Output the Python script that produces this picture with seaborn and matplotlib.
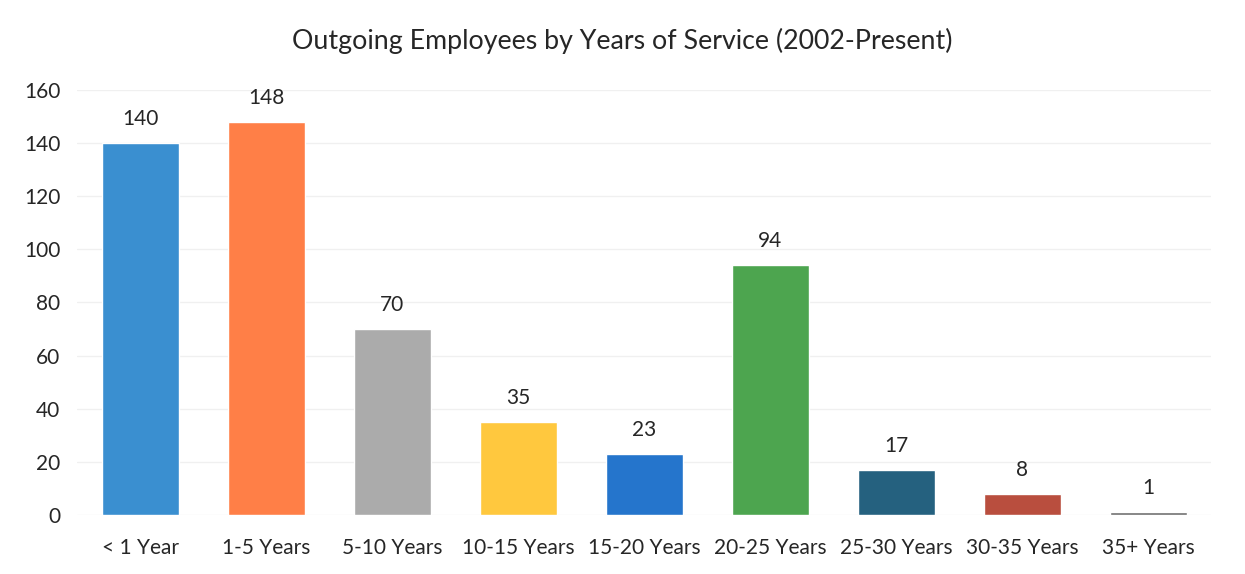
import matplotlib
matplotlib.use("Agg")
import matplotlib.pyplot as plt
import seaborn as sns
import pandas as pd

categories = ["< 1 Year", "1-5 Years", "5-10 Years", "10-15 Years", "15-20 Years",
              "20-25 Years", "25-30 Years", "30-35 Years", "35+ Years"]
employees = [140, 148, 70, 35, 23, 94, 17, 8, 1]
bar_colors = ["#3A8FD0", "#FF7F47", "#ABABAB", "#FFC83E", "#2575CC",
              "#4DA54F", "#25617F", "#B94E3E", "#6E6E6E"]
yticks = [0, 20, 40, 60, 80, 100, 120, 140, 160]

sns.set_theme(style="white")
plt.rcParams["font.family"] = ["Lato", "DejaVu Sans"]

df = pd.DataFrame({"category": categories, "employees": employees})

fig = plt.figure(figsize=(12.45, 5.74), dpi=100)
ax = fig.add_axes([0.062, 0.103, 0.911, 0.74])

sns.barplot(data=df, x="category", y="employees", hue="category",
            palette=bar_colors, legend=False, width=0.61, saturation=1,
            ax=ax, zorder=3)

for container, val in zip(ax.containers, employees):
    ax.bar_label(container, labels=[str(val)], padding=10,
                 fontsize=15, color="#262626")

ax.set_ylim(0, 160)
ax.set_xlim(-0.5, len(categories) - 0.5)
ax.set_yticks(yticks)
ax.set_yticklabels([str(t) for t in yticks], fontsize=15, color="#262626")
ax.tick_params(axis="x", labelsize=15, colors="#262626", pad=17, length=0)
ax.tick_params(axis="y", pad=12, length=0)
ax.grid(axis="y", color="#F0F0F0", linewidth=1, zorder=0)
ax.set_xlabel("")
ax.set_ylabel("")
for s in ax.spines.values():
    s.set_visible(False)

fig.suptitle("Outgoing Employees by Years of Service (2002-Present)",
             fontsize=19.3, color="#262626", y=0.951)

fig.savefig("out.png", dpi=100, facecolor="white")
